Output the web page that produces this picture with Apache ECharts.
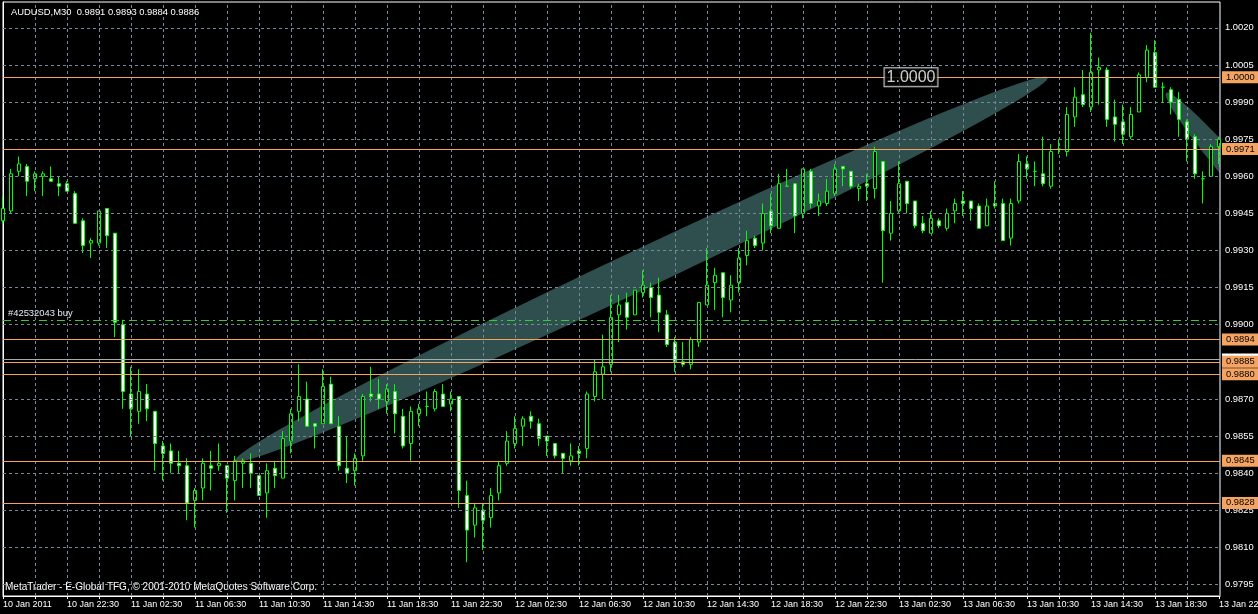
<!DOCTYPE html>
<html><head><meta charset="utf-8">
<script src="https://cdn.jsdelivr.net/npm/echarts@6/dist/echarts.min.js"></script>
<style>html,body{margin:0;padding:0;background:#000;}#c{width:1258px;height:614px;}</style>
</head><body><div id="c"></div>
<script>
// ---- data ----
const timeLabels = ['10 Jan 2011','10 Jan 22:30','11 Jan 02:30','11 Jan 06:30','11 Jan 10:30','11 Jan 14:30','11 Jan 18:30','11 Jan 22:30','12 Jan 02:30','12 Jan 06:30','12 Jan 10:30','12 Jan 14:30','12 Jan 18:30','12 Jan 22:30','13 Jan 02:30','13 Jan 06:30','13 Jan 10:30','13 Jan 14:30','13 Jan 18:30','13 Jan 22:30'];
const xLabelBars = [0,8,16,24,32,40,48,56,64,72,80,88,96,104,112,120,128,136,144,152];
const xGridBars = [0,4,8,12,16,20,24,28,32,36,40,44,48,52,56,60,64,68,72,76,80,84,88,92,96,100,104,108,112,116,120,124,128,132,136,140,144,148,152];
const yTicks = [0.9795,0.9810,0.9825,0.9840,0.9855,0.9870,0.9885,0.9900,0.9915,0.9930,0.9945,0.9960,0.9975,0.9990,1.0005,1.0020];
const opens = [0.9942,0.9946,0.9962,0.9964,0.9959,0.9960,0.9959,0.9957,0.9957,0.9953,
0.9942,0.9933,0.9933,0.9947,0.9937,0.9900,0.9872,0.9865,0.9872,0.9865,
0.9851,0.9849,0.9844,0.9843,0.9829,0.9834,0.9843,0.9843,0.9843,0.9837,
0.9844,0.9844,0.9839,0.9832,0.9842,0.9838,0.9853,0.9865,0.9870,0.9860,
0.9860,0.9876,0.9859,0.9842,0.9841,0.9847,0.9872,0.9872,0.9869,0.9873,
0.9863,0.9852,0.9864,0.9867,0.9866,0.9872,0.9868,0.9871,0.9831,0.9819,
0.9825,0.9822,0.9832,0.9844,0.9852,0.9859,0.9863,0.9860,0.9855,0.9852,
0.9848,0.9845,0.9849,0.9850,0.9871,0.9880,0.9884,0.9904,0.9909,0.9904,
0.9913,0.9915,0.9912,0.9904,0.9893,0.9885,0.9884,0.9893,0.9908,0.9917,
0.9921,0.9910,0.9917,0.9928,0.9935,0.9933,0.9946,0.9939,0.9956,0.9957,
0.9945,0.9962,0.9948,0.9949,0.9953,0.9964,0.9962,0.9955,0.9957,0.9955,
0.9966,0.9937,0.9946,0.9958,0.9950,0.9941,0.9937,0.9942,0.9939,0.9946,
0.9950,0.9950,0.9948,0.9940,0.9949,0.9949,0.9935,0.9950,0.9965,0.9962,
0.9961,0.9956,0.9971,0.9970,0.9984,0.9993,0.9988,1.0003,1.0003,0.9984,
0.9982,0.9976,0.9986,1.0000,1.0010,0.9996,0.9995,0.9991,0.9982,0.9976,
0.9959,0.9960,0.9972];
const highs = [0.9952,0.9963,0.9968,0.9965,0.9962,0.9962,0.9964,0.9960,0.9958,0.9954,
0.9943,0.9935,0.9946,0.9947,0.9937,0.9902,0.9883,0.9882,0.9876,0.9865,
0.9853,0.9852,0.9849,0.9846,0.9834,0.9846,0.9849,0.9852,0.9843,0.9847,
0.9846,0.9848,0.9839,0.9844,0.9845,0.9857,0.9866,0.9884,0.9877,0.9860,
0.9882,0.9879,0.9863,0.9855,0.9848,0.9872,0.9883,0.9878,0.9876,0.9876,
0.9866,0.9867,0.9868,0.9873,0.9874,0.9876,0.9873,0.9871,0.9837,0.9828,
0.9828,0.9834,0.9845,0.9857,0.9863,0.9863,0.9865,0.9862,0.9855,0.9852,
0.9848,0.9852,0.9851,0.9873,0.9886,0.9896,0.9912,0.9912,0.9913,0.9914,
0.9922,0.9917,0.9919,0.9906,0.9895,0.9893,0.9895,0.9909,0.9931,0.9923,
0.9921,0.9920,0.9931,0.9938,0.9936,0.9949,0.9953,0.9961,0.9963,0.9957,
0.9963,0.9963,0.9953,0.9959,0.9965,0.9964,0.9962,0.9957,0.9961,0.9972,
0.9966,0.9950,0.9966,0.9958,0.9950,0.9944,0.9946,0.9943,0.9947,0.9951,
0.9954,0.9950,0.9949,0.9951,0.9958,0.9951,0.9951,0.9969,0.9968,0.9966,
0.9976,0.9973,0.9975,0.9988,0.9996,1.0003,1.0018,1.0008,1.0004,0.9991,
0.9989,0.9988,1.0002,1.0013,1.0015,0.9998,0.9996,0.9994,0.9983,0.9977,
0.9962,0.9973,0.9976];
const lows = [0.9941,0.9945,0.9960,0.9952,0.9954,0.9952,0.9958,0.9952,0.9954,0.9941,
0.9929,0.9927,0.9932,0.9931,0.9895,0.9866,0.9855,0.9860,0.9861,0.9841,
0.9837,0.9840,0.9840,0.9821,0.9818,0.9829,0.9833,0.9841,0.9824,0.9829,
0.9834,0.9834,0.9831,0.9822,0.9834,0.9838,0.9848,0.9861,0.9859,0.9850,
0.9860,0.9860,0.9841,0.9836,0.9835,0.9845,0.9869,0.9866,0.9864,0.9856,
0.9850,0.9845,0.9859,0.9863,0.9865,0.9867,0.9865,0.9826,0.9804,0.9814,
0.9809,0.9818,0.9829,0.9843,0.9850,0.9851,0.9858,0.9851,0.9847,0.9846,
0.9840,0.9843,0.9843,0.9846,0.9869,0.9870,0.9881,0.9893,0.9898,0.9904,
0.9911,0.9903,0.9897,0.9891,0.9881,0.9883,0.9882,0.9891,0.9908,0.9906,
0.9903,0.9905,0.9913,0.9924,0.9931,0.9930,0.9937,0.9939,0.9956,0.9937,
0.9943,0.9947,0.9944,0.9948,0.9952,0.9956,0.9955,0.9950,0.9950,0.9951,
0.9917,0.9934,0.9945,0.9945,0.9939,0.9937,0.9937,0.9939,0.9938,0.9941,
0.9944,0.9942,0.9939,0.9940,0.9947,0.9934,0.9932,0.9949,0.9959,0.9956,
0.9956,0.9955,0.9969,0.9968,0.9980,0.9988,0.9986,0.9989,0.9980,0.9974,
0.9973,0.9975,0.9986,0.9998,0.9996,0.9990,0.9985,0.9976,0.9966,0.9959,
0.9949,0.9960,0.9965];
const closes = [0.9947,0.9961,0.9965,0.9958,0.9961,0.9961,0.9958,0.9956,0.9954,0.9941,
0.9932,0.9934,0.9946,0.9936,0.9901,0.9873,0.9866,0.9873,0.9866,0.9852,
0.9848,0.9844,0.9843,0.9828,0.9833,0.9844,0.9842,0.9844,0.9838,0.9845,
0.9845,0.9840,0.9831,0.9841,0.9839,0.9854,0.9864,0.9871,0.9859,0.9859,
0.9875,0.9860,0.9843,0.9840,0.9846,0.9871,0.9871,0.9870,0.9874,0.9864,
0.9851,0.9865,0.9866,0.9867,0.9873,0.9867,0.9870,0.9833,0.9817,0.9826,
0.9821,0.9831,0.9843,0.9853,0.9858,0.9862,0.9861,0.9854,0.9853,0.9847,
0.9846,0.9847,0.9848,0.9872,0.9881,0.9883,0.9903,0.9908,0.9903,0.9914,
0.9916,0.9911,0.9905,0.9892,0.9885,0.9884,0.9894,0.9909,0.9916,0.9920,
0.9911,0.9916,0.9927,0.9934,0.9932,0.9945,0.9940,0.9957,0.9956,0.9944,
0.9963,0.9949,0.9950,0.9954,0.9963,0.9963,0.9956,0.9956,0.9956,0.9970,
0.9938,0.9945,0.9957,0.9949,0.9940,0.9938,0.9943,0.9940,0.9945,0.9949,
0.9949,0.9947,0.9939,0.9948,0.9948,0.9934,0.9949,0.9966,0.9963,0.9962,
0.9957,0.9970,0.9971,0.9985,0.9992,0.9989,1.0002,1.0004,0.9983,0.9981,
0.9977,0.9985,1.0001,1.0011,0.9996,0.9996,0.9990,0.9983,0.9975,0.9961,
0.9959,0.9972,0.9975];
const levelLines = [1.0000, 0.9971, 0.9894, 0.9885, 0.9880, 0.9845, 0.9828];
const bidLine = 0.9886;
const orderLine = 0.9902;
const orderText = '#42532043 buy';
// ellipse objects: [bar1, price1, bar2, price2, minor/major ratio]
const ellipses = [[29.0, 0.9845, 130.6, 1.0000, 0.044], [145.4, 0.99937, 165.9, 0.99169, 0.097]];
const textObj = {bar: 113.5, price: 1.0000, text: '1.0000'};
const titleText = 'AUDUSD,M30  0.9891 0.9893 0.9884 0.9886';
const footerText = 'MetaTrader - E-Global TFG, \u00a9 2001-2010 MetaQuotes Software Corp.';

// ---- chart ----
const FONT = 'Liberation Sans';
const candleData = opens.map((o, i) => [i, o, closes[i], lows[i], highs[i]]);
const hLine = (v) => ({yAxis: v});
const chart = echarts.init(document.getElementById('c'), null, {renderer: 'canvas'});
chart.setOption({
  backgroundColor: '#000',
  animation: false,
  title: {text: titleText, left: 6, top: 3, textStyle: {color: '#fff', fontSize: 9.4, fontWeight: 'normal', fontFamily: FONT}},
  graphic: [{type: 'text', left: 5, top: 582, style: {text: footerText, fill: '#fff', font: '10px "Liberation Sans"'}}],
  grid: {left: 3, right: 38, top: 2, bottom: 18, outerBoundsMode: 'none', containLabel: false, show: true, borderColor: '#fff', borderWidth: 1, backgroundColor: 'transparent'},
  xAxis: {
    type: 'value', min: 0, max: 152.125,
    axisLine: {show: true, lineStyle: {color: '#fff'}},
    axisTick: {show: true, length: 3, customValues: xGridBars, lineStyle: {color: '#fff'}},
    axisLabel: {color: '#fff', fontSize: 9, fontFamily: FONT, align: 'left', margin: 4, customValues: xLabelBars,
      formatter: v => (timeLabels[xLabelBars.indexOf(Math.round(v))] || '')},
    splitLine: {show: false}
  },
  yAxis: {
    type: 'value', position: 'right', min: 0.979036, max: 1.003045,
    axisLine: {show: true, lineStyle: {color: '#fff'}},
    axisTick: {show: true, length: 3, customValues: yTicks, lineStyle: {color: '#fff'}},
    axisLabel: {color: '#fff', fontSize: 9.4, fontFamily: FONT, margin: 5, customValues: yTicks, formatter: v => v.toFixed(4)},
    splitLine: {show: false}
  },
  series: [
    { // horizontal grid lines
      type: 'line', data: [], z: -2, silent: true,
      markLine: {silent: true, precision: 6, symbol: ['none', 'none'], animation: false, label: {show: false},
        lineStyle: {color: '#778899', type: [3, 3], width: 1},
        data: yTicks.map(hLine)}
    },
    { // ellipse drawing objects
      type: 'custom', z: -1, clip: true, silent: true,
      data: ellipses,
      renderItem: function (params, api) {
        const a = api.coord([api.value(0), api.value(1)]);
        const b = api.coord([api.value(2), api.value(3)]);
        const cx = (a[0] + b[0]) / 2, cy = (a[1] + b[1]) / 2;
        const dx = b[0] - a[0], dy = b[1] - a[1];
        const L = Math.hypot(dx, dy) / 2;
        const ux = dx / (2 * L), uy = dy / (2 * L);
        const vx = -uy, vy = ux;
        const r = api.value(4) * L;
        const pts = [];
        for (let t = 0; t < 120; t++) {
          const ang = t / 120 * 2 * Math.PI;
          const c = Math.cos(ang) * L, s = Math.sin(ang) * r;
          pts.push([cx + ux * c + vx * s, cy + uy * c + vy * s]);
        }
        return {type: 'polygon', shape: {points: pts}, style: {fill: '#2f4f4f'}};
      }
    },
    { // vertical grid lines
      type: 'line', data: [], z: 0, silent: true,
      markLine: {silent: true, precision: 6, symbol: ['none', 'none'], animation: false, label: {show: false},
        lineStyle: {color: '#778899', type: [3, 3], width: 1},
        data: xGridBars.slice(1).map(v => ({xAxis: v}))}
    },
    {
      type: 'candlestick', z: 2, data: candleData, encode: {x: 0, y: [1, 2, 3, 4]}, barWidth: 4,
      itemStyle: {color: '#000', color0: '#fff', borderColor: '#00ff00', borderColor0: '#00ff00', borderColorDoji: '#00ff00', borderWidth: 1}
    },
    { // bid line
      type: 'line', data: [], z: 3, silent: true,
      markLine: {silent: true, precision: 6, symbol: ['none', 'none'], animation: false,
        lineStyle: {color: '#a9a9a9', type: 'solid', width: 1},
        label: {show: true, position: 'end', distance: 2, formatter: p => p.value.toFixed(4), color: '#000', backgroundColor: '#fff', fontSize: 9.4, fontFamily: FONT, padding: [2, 4, 1, 4]},
        data: [hLine(bidLine)]}
    },
    { // horizontal level lines
      type: 'line', data: [], z: 4, silent: true,
      markLine: {silent: true, precision: 6, symbol: ['none', 'none'], animation: false,
        lineStyle: {color: '#f4a460', type: 'solid', width: 1.2},
        label: {show: true, position: 'end', distance: 2, formatter: p => p.value.toFixed(4), color: '#000', backgroundColor: '#f4a460', fontSize: 9.4, fontFamily: FONT, padding: [2, 4, 1, 4]},
        data: levelLines.map(hLine)}
    },
    { // order line
      type: 'line', data: [], z: 4, silent: true,
      markLine: {silent: true, precision: 6, symbol: ['none', 'none'], animation: false,
        lineStyle: {color: '#32cd32', type: [8, 4, 2, 4], width: 1},
        label: {show: true, position: 'insideStartTop', distance: [5, 2], formatter: orderText, color: '#e4ecf8', fontSize: 9.4, fontFamily: FONT},
        data: [hLine(orderLine)]}
    },
    { // text object
      type: 'scatter', z: 6, silent: true, symbol: 'rect', symbolSize: 1,
      itemStyle: {color: 'rgba(0,0,0,0)'},
      data: [[textObj.bar, textObj.price]],
      label: {show: true, position: 'inside', formatter: textObj.text, color: '#fff', fontSize: 16, fontFamily: FONT, lineHeight: 17,
        backgroundColor: '#000', borderColor: '#fff', borderWidth: 1, padding: [1, 2, 0, 2]}
    }
  ]
});
</script>
</body></html>
